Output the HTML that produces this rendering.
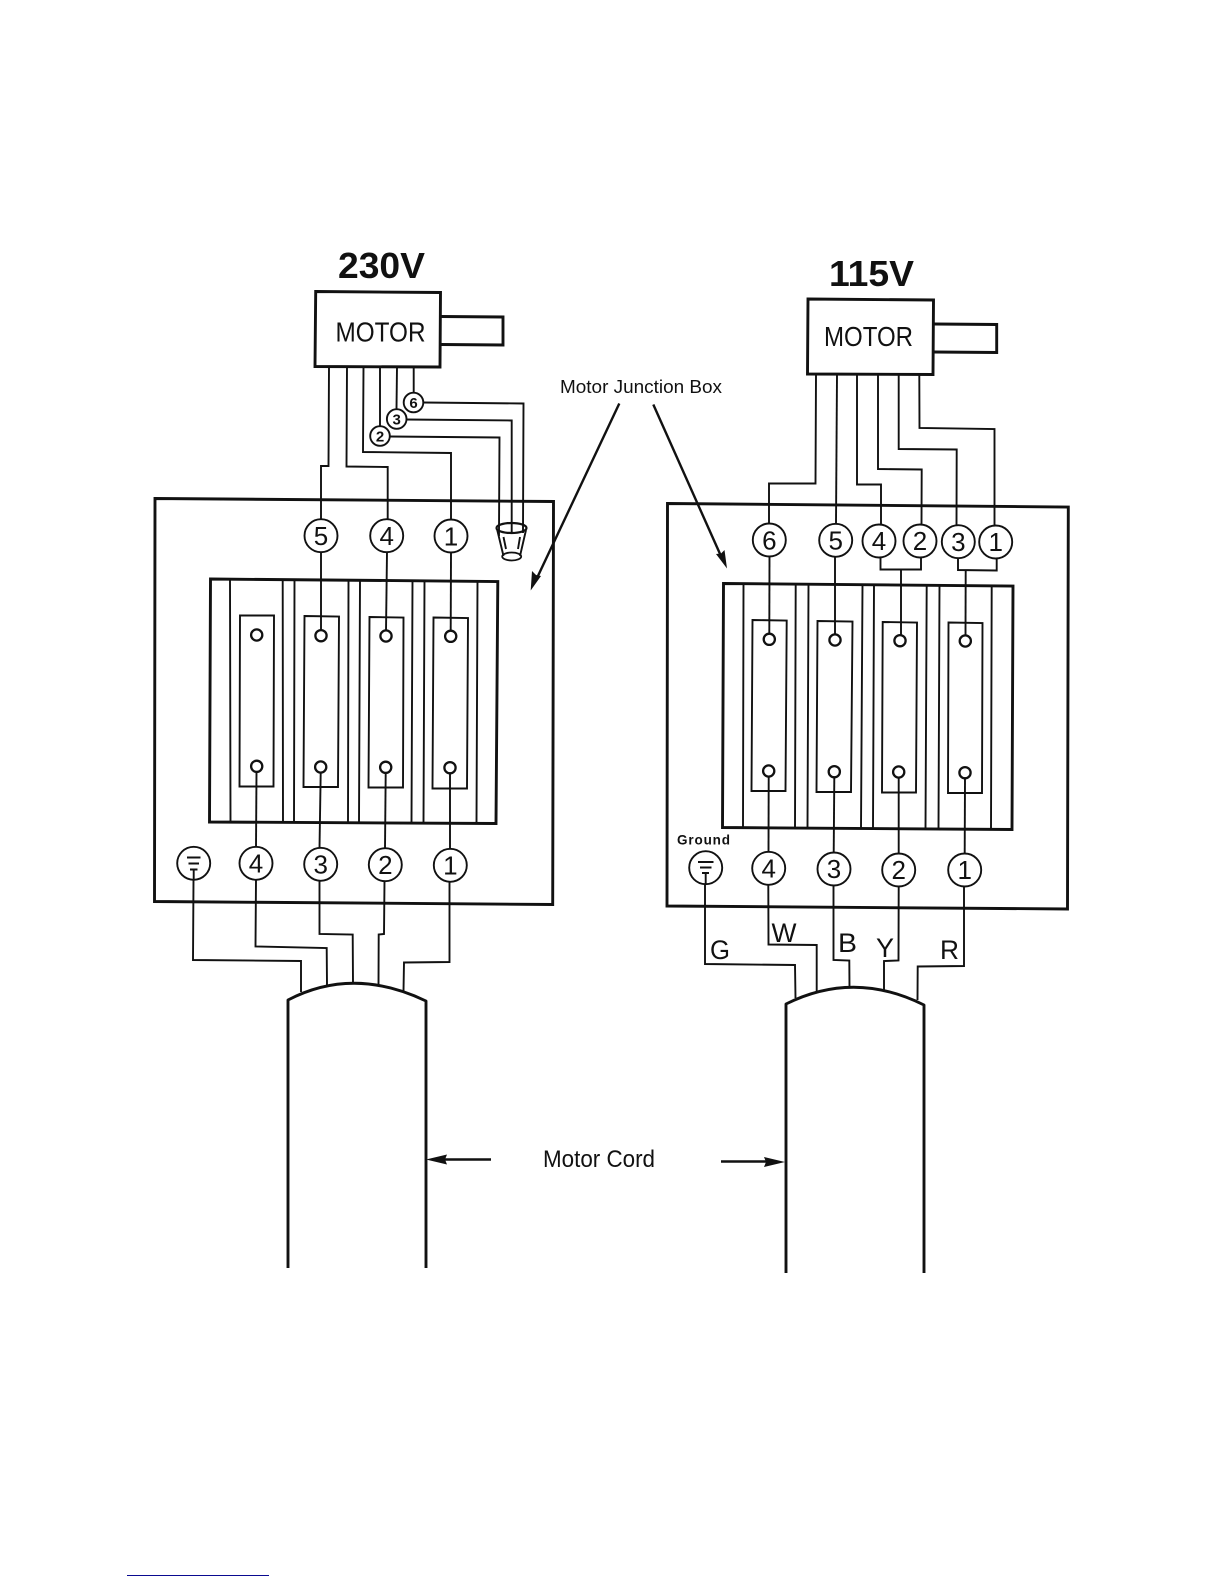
<!DOCTYPE html>
<html>
<head>
<meta charset="utf-8">
<style>
html,body{margin:0;padding:0;background:#fff;width:1224px;height:1584px;overflow:hidden}
svg{display:block;filter:blur(0.3px)}
text{font-family:"Liberation Sans",sans-serif;fill:#111}
.w{fill:none;stroke:#111;stroke-width:1.9;stroke-linejoin:miter}
.t{fill:none;stroke:#111;stroke-width:1.9}
.b{fill:none;stroke:#111;stroke-width:2.9}
.c{fill:#fff;stroke:#111;stroke-width:1.9}
.d{font-size:26px;text-anchor:middle}
.s{font-size:15px;text-anchor:middle}
.h{fill:#fff;stroke:#111;stroke-width:2.3}
.l{font-size:27px;text-anchor:middle}
</style>
</head>
<body>
<svg width="1224" height="1584" viewBox="0 0 1224 1584" xmlns="http://www.w3.org/2000/svg">
<rect width="1224" height="1584" fill="#fff"/>

<!-- LEFT: 230V -->
<text x="338" y="278" font-size="36" font-weight="bold" textLength="87" lengthAdjust="spacingAndGlyphs">230V</text>
<path class="b" d="M315.7 291.5L440.5 292.5L440 367L315 366.5Z"/>
<path class="b" d="M441 316.5L503 317L503 345L441 344.5"/>
<text x="335.5" y="341.5" font-size="28" textLength="90" lengthAdjust="spacingAndGlyphs">MOTOR</text>

<path class="w" d="M329 367L328.5 466L321 466L321 519"/>
<path class="w" d="M347 367L346.5 466.5L387.7 467L387.7 519"/>
<path class="w" d="M363.5 367L363 452L451 453L451 519"/>
<path class="w" d="M380 367L380 426"/>
<path class="w" d="M397 367L396.5 409"/>
<path class="w" d="M413.7 367L413.7 393"/>
<path class="w" d="M423 402.5L523.5 403.5L523 530"/>
<path class="w" d="M406 419.5L511.7 420.5L511.7 530"/>
<path class="w" d="M390 436.5L499.5 437.5L499 530"/>

<circle class="c" cx="413.5" cy="402.5" r="9.8"/><text class="s" x="413.5" y="408" font-weight="bold">6</text>
<circle class="c" cx="396.7" cy="419" r="9.8"/><text class="s" x="396.7" y="424.5" font-weight="bold">3</text>
<circle class="c" cx="380" cy="436" r="9.8"/><text class="s" x="380" y="441.5" font-weight="bold">2</text>

<path class="b" d="M155 498.5L553.5 501.5L552.7 904.5L154.5 901.5Z"/>

<!-- bucket -->
<path class="w" d="M497 529L503.5 556M526 530L520 556"/>
<ellipse cx="511.5" cy="528" rx="15" ry="5" fill="none" stroke="#111" stroke-width="2.2"/>
<ellipse cx="511.7" cy="556.5" rx="9.5" ry="4" fill="none" stroke="#111" stroke-width="1.8"/>
<path class="w" d="M503.5 537L506 549M520 537L518 549"/>
<path class="w" d="M499 530V536M511.7 530V533M523 530V533"/>

<!-- left block -->
<path class="b" d="M210.5 579L497.8 581.5L496 823.5L209.5 822Z"/>
<path class="t" d="M230 580L230.5 822M282.7 580L283 822M294.5 580L294 822M348.5 580L348 823M360 580L359 823M412.5 581L411.5 823M424.5 581L423.5 823M477.5 581L476.5 823"/>
<path class="t" d="M240 615.5L274 615.5L273.5 786.5L239.5 786.5Z"/>
<path class="t" d="M304.5 616L339 616.5L338 787L303.5 787Z"/>
<path class="t" d="M369.5 617L403.5 617.5L403 787.5L368.5 787.5Z"/>
<path class="t" d="M433.5 617.5L468 618L467 788.5L432.5 788.5Z"/>

<path class="w" d="M321 552L321 630"/>
<path class="w" d="M387 552L386 631"/>
<path class="w" d="M451 553L450.7 631"/>
<path class="w" d="M256.5 772L256 847"/>
<path class="w" d="M320.7 773L319.5 848"/>
<path class="w" d="M385.7 773L385 848"/>
<path class="w" d="M450 773L450 849"/>

<circle class="h" cx="256.7" cy="635" r="5.6"/><circle class="h" cx="321" cy="635.7" r="5.6"/><circle class="h" cx="386" cy="636" r="5.6"/><circle class="h" cx="450.7" cy="636.3" r="5.6"/>
<circle class="h" cx="256.7" cy="766.3" r="5.6"/><circle class="h" cx="320.7" cy="767" r="5.6"/><circle class="h" cx="385.7" cy="767.3" r="5.6"/><circle class="h" cx="450" cy="767.7" r="5.6"/>

<circle class="c" cx="321" cy="535.7" r="16.5"/><text class="d" x="321" y="545">5</text>
<circle class="c" cx="386.7" cy="535.7" r="16.5"/><text class="d" x="386.7" y="545">4</text>
<circle class="c" cx="451" cy="536" r="16.5"/><text class="d" x="451" y="545.5">1</text>

<circle class="c" cx="193.7" cy="863.3" r="16.5"/>
<path class="w" d="M187 857.5H200.5M188.5 863.5H199M190 869.5H197.5M193.7 869.5V880"/>
<circle class="c" cx="256" cy="863.3" r="16.5"/><text class="d" x="256" y="872.5">4</text>
<circle class="c" cx="320.7" cy="864.3" r="16.5"/><text class="d" x="320.7" y="873.5">3</text>
<circle class="c" cx="385.3" cy="864.7" r="16.5"/><text class="d" x="385.3" y="874">2</text>
<circle class="c" cx="450.3" cy="865.3" r="16.5"/><text class="d" x="450.3" y="874.5">1</text>

<path class="w" d="M193.5 880L193 960L301 961L301 992"/>
<path class="w" d="M256 880L255.5 946.5L326.7 948L327 985"/>
<path class="w" d="M319.5 881L319.5 934L352.7 934.5L353 983"/>
<path class="w" d="M384.5 881L384 934L378.7 934.5L378.5 985"/>
<path class="w" d="M449.5 882L449.5 962L404 962.5L403.5 991"/>

<path class="b" d="M288 1268V1000Q353 966 426 1001V1268" stroke-linejoin="round"/>

<!-- RIGHT: 115V -->
<text x="829" y="286" font-size="36" font-weight="bold" textLength="85" lengthAdjust="spacingAndGlyphs">115V</text>
<path class="b" d="M808 299L933.5 300L933 374.5L807.5 374Z"/>
<path class="b" d="M934 324L996.7 324.5L996.7 352.5L934 352"/>
<text x="824" y="346" font-size="28" textLength="89" lengthAdjust="spacingAndGlyphs">MOTOR</text>

<path class="w" d="M816 375L815.5 483.5L769 483.5L769 523"/>
<path class="w" d="M837 375L836 523"/>
<path class="w" d="M857 375L857 484.5L881 484.5L881 524"/>
<path class="w" d="M878 375L878 469L921.7 469.5L921.5 524"/>
<path class="w" d="M898.7 375L898.7 449L956.7 449.5L956.5 525"/>
<path class="w" d="M919.3 375L919.5 428L994.5 429L994.5 525"/>

<path class="b" d="M667.5 503.5L1068.3 507L1067.5 909L667 906Z"/>

<!-- right block -->
<path class="b" d="M723.5 583.5L1013 586L1012 829.5L722.5 827.5Z"/>
<path class="t" d="M743.5 584L743 827M795.7 584L795 828M808.5 584L807.5 828M862.5 585L861 828M874 585L873 828M926.7 585L925.5 829M939.5 585L938.5 829M991.7 586L991 829"/>
<path class="t" d="M752.5 620L786.7 620.5L785.5 791L751.5 791Z"/>
<path class="t" d="M817.5 621L852.5 621.5L851 792L816.5 792Z"/>
<path class="t" d="M882.7 622L917 622.5L916 792.5L882 792.5Z"/>
<path class="t" d="M948.5 622.5L982.5 623L982 793L948 793Z"/>

<path class="w" d="M769.5 557L769.3 634"/>
<path class="w" d="M835 557L835 635"/>
<path class="w" d="M880.5 557L880.5 569.5L921 569.5L921 557"/>
<path class="w" d="M901 569.5L901 635"/>
<path class="w" d="M958 558L958 570L996.7 570.5L996.7 558"/>
<path class="w" d="M965.7 570L965.5 636"/>
<path class="w" d="M768.7 777L768.5 852"/>
<path class="w" d="M834.3 778L833.7 853"/>
<path class="w" d="M898.7 778L898.7 853"/>
<path class="w" d="M965 778L964.7 853"/>

<circle class="h" cx="769.3" cy="639.3" r="5.6"/><circle class="h" cx="835" cy="640" r="5.6"/><circle class="h" cx="900" cy="640.7" r="5.6"/><circle class="h" cx="965.3" cy="641" r="5.6"/>
<circle class="h" cx="768.7" cy="771" r="5.6"/><circle class="h" cx="834.3" cy="771.7" r="5.6"/><circle class="h" cx="898.7" cy="772" r="5.6"/><circle class="h" cx="965" cy="772.7" r="5.6"/>

<circle class="c" cx="769.3" cy="540" r="16.5"/><text class="d" x="769.3" y="549.5">6</text>
<circle class="c" cx="835.7" cy="540.3" r="16.5"/><text class="d" x="835.7" y="549.5">5</text>
<circle class="c" cx="879" cy="541" r="16.5"/><text class="d" x="879" y="550">4</text>
<circle class="c" cx="920" cy="541" r="16.5"/><text class="d" x="920" y="550">2</text>
<circle class="c" cx="958.3" cy="541.7" r="16.5"/><text class="d" x="958.3" y="551">3</text>
<circle class="c" cx="995.7" cy="542" r="16.5"/><text class="d" x="995.7" y="551">1</text>

<text x="677" y="844.5" font-size="13.5" font-weight="bold" textLength="53" lengthAdjust="spacing">Ground</text>
<circle class="c" cx="705.7" cy="867.7" r="16.5"/>
<path class="w" d="M698 862H713.5M700 867.5H711.5M702 873H709M705.7 873V884"/>
<circle class="c" cx="768.7" cy="868.3" r="16.5"/><text class="d" x="768.7" y="877.5">4</text>
<circle class="c" cx="834" cy="869" r="16.5"/><text class="d" x="834" y="878">3</text>
<circle class="c" cx="898.7" cy="870" r="16.5"/><text class="d" x="898.7" y="879">2</text>
<circle class="c" cx="964.7" cy="870" r="16.5"/><text class="d" x="964.7" y="879">1</text>

<path class="w" d="M705 884L705 964L795 965L795.5 998"/>
<path class="w" d="M768.3 885L768.5 944.5L816.7 945L816.7 992"/>
<path class="w" d="M833.5 886L833.5 960L849.3 960.5L849.5 988"/>
<path class="w" d="M898.7 887L898.5 960.5L884 961L884 990"/>
<path class="w" d="M964 887L964 966L917.7 966.5L917.5 1000"/>

<text class="l" x="720" y="959" textLength="20" lengthAdjust="spacingAndGlyphs">G</text>
<text class="l" x="784" y="942" textLength="25" lengthAdjust="spacingAndGlyphs">W</text>
<text class="l" x="847.5" y="952" textLength="19" lengthAdjust="spacingAndGlyphs">B</text>
<text class="l" x="885" y="957" textLength="18" lengthAdjust="spacingAndGlyphs">Y</text>
<text class="l" x="949.5" y="959" textLength="19" lengthAdjust="spacingAndGlyphs">R</text>

<path class="b" d="M786 1273V1004Q854 970 924 1005V1273" stroke-linejoin="round"/>

<!-- Motor Cord -->
<text x="543" y="1167" font-size="24" textLength="112" lengthAdjust="spacingAndGlyphs">Motor Cord</text>
<path d="M491 1159.5H440" stroke="#111" stroke-width="2.4"/>
<path d="M426 1159.5L447 1154.5L445 1159.5L447 1164.5Z" fill="#111"/>
<path d="M721 1161.5H770" stroke="#111" stroke-width="2.4"/>
<path d="M785 1162L764 1157L766 1162L764 1167Z" fill="#111"/>

<!-- Motor Junction Box -->
<text x="560" y="393" font-size="18" textLength="162" lengthAdjust="spacingAndGlyphs">Motor Junction Box</text>
<path d="M619.3 403.5L537 578" stroke="#111" stroke-width="2.4"/>
<path d="M530.7 590.5L532 571L536 575L541 576Z" fill="#111"/>
<path d="M653.3 404.5L720.5 555" stroke="#111" stroke-width="2.4"/>
<path d="M727 568.5L716 554L721 553.5L724.5 550Z" fill="#111"/>

<!-- bottom rule -->
<rect x="127" y="1575" width="142" height="1" fill="#0a0a90"/>
</svg>
</body>
</html>
